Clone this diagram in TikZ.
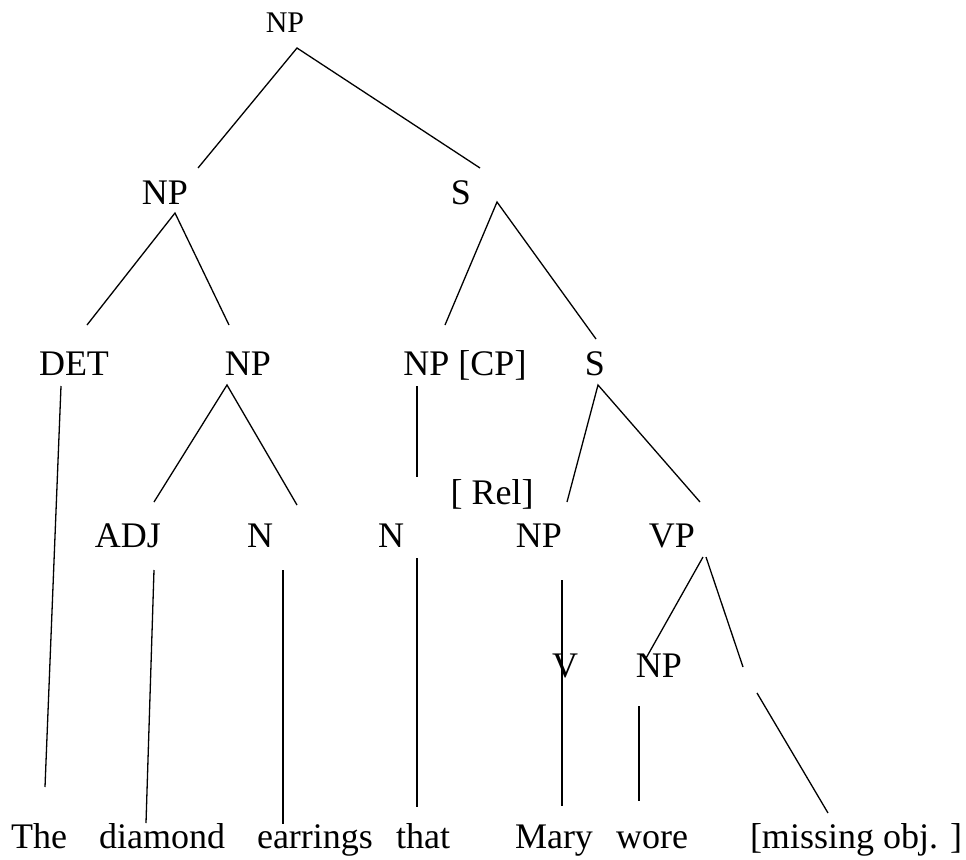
\documentclass[tikz,border=0pt]{standalone}
\usepackage{fontspec}
\setmainfont{Liberation Serif}
\begin{document}
\begin{tikzpicture}[x=1pt,y=-1pt,
		lab/.style={font=\fontsize{36}{40}\selectfont, inner sep=0pt, anchor=base},
		toplab/.style={lab, font=\fontsize{30}{34}\selectfont},
		branch/.style={line width=1.3pt}]
		\useasboundingbox (0,0) rectangle (966,859);
		\node[toplab] (np0) at (285,33) {NP};
		\node[lab] (np1) at (165,204) {NP};
		\node[lab] (s1) at (461,204) {S};
		\node[lab] (det) at (74,375) {DET};
		\node[lab] (np2) at (248,375) {NP};
		\node[lab] (npcp) at (465,375) {NP [CP]};
		\node[lab] (s2) at (595,375) {S};
		\node[lab] (rel) at (492,504) {[ Rel]};
		\node[lab] (adj) at (128,547) {ADJ};
		\node[lab] (n1) at (260,547) {N};
		\node[lab] (n2) at (391,547) {N};
		\node[lab] (np3) at (539,547) {NP};
		\node[lab] (vp) at (672,547) {VP};
		\node[lab] (v) at (565,677) {V};
		\node[lab] (np4) at (659,677) {NP};
		\coordinate (gap) at (750,680);
		\node[lab] (the) at (39,848) {The};
		\node[lab] (diamond) at (162,848) {diamond};
		\node[lab] (earrings) at (315,848) {earrings};
		\node[lab] (that) at (423,848) {that};
		\node[lab] (mary) at (554,848) {Mary};
		\node[lab] (wore) at (652,848) {wore};
		\node[lab] (missing) at (856,848) {[missing obj. ]};
		\draw[branch] ([xshift=33pt,yshift=36pt]np1.base) -- ([xshift=12pt,yshift=-15pt]np0.base) -- ([xshift=19pt,yshift=36pt]s1.base);
		\draw[branch] ([xshift=13pt,yshift=50pt]det.base) -- ([xshift=10pt,yshift=-9pt]np1.base) -- ([xshift=-19pt,yshift=50pt]np2.base);
		\draw[branch] ([xshift=-20pt,yshift=50pt]npcp.base) -- ([xshift=36pt,yshift=2pt]s1.base) -- ([xshift=1pt,yshift=36pt]s2.base);
		\draw[branch] ([xshift=-13pt,yshift=-11pt]det.base) -- ([xshift=6pt,yshift=61pt]the.base);
		\draw[branch] ([xshift=26pt,yshift=45pt]adj.base) -- ([xshift=-21pt,yshift=-10pt]np2.base) -- ([xshift=37pt,yshift=42pt]n1.base);
		\draw[branch] ([xshift=-48pt,yshift=-11pt]npcp.base) -- ([xshift=26pt,yshift=70pt]n2.base);
		\draw[branch] ([xshift=28pt,yshift=45pt]np3.base) -- ([xshift=3pt,yshift=-10pt]s2.base) -- ([xshift=28pt,yshift=45pt]vp.base);
		\draw[branch] ([xshift=26pt,yshift=-23pt]adj.base) -- ([xshift=-16pt,yshift=25pt]diamond.base);
		\draw[branch] ([xshift=23pt,yshift=-23pt]n1.base) -- ([xshift=-32pt,yshift=24pt]earrings.base);
		\draw[branch] ([xshift=26pt,yshift=-11pt]n2.base) -- ([xshift=-6pt,yshift=41pt]that.base);
		\draw[branch] ([xshift=23pt,yshift=-33pt]np3.base) -- ([xshift=8pt,yshift=42pt]mary.base);
		\draw[branch] ([xshift=31pt,yshift=-10pt]vp.base) -- ([xshift=-14pt,yshift=17pt]np4.base);
		\draw[branch] ([xshift=34pt,yshift=-10pt]vp.base) -- ([xshift=-7pt,yshift=13pt]gap);
		\draw[branch] ([xshift=7pt,yshift=-13pt]gap) -- ([xshift=-28pt,yshift=35pt]missing.base);
		\draw[branch] ([xshift=-20pt,yshift=-29pt]np4.base) -- ([xshift=-13pt,yshift=47pt]wore.base);
	\end{tikzpicture}
\end{document}
